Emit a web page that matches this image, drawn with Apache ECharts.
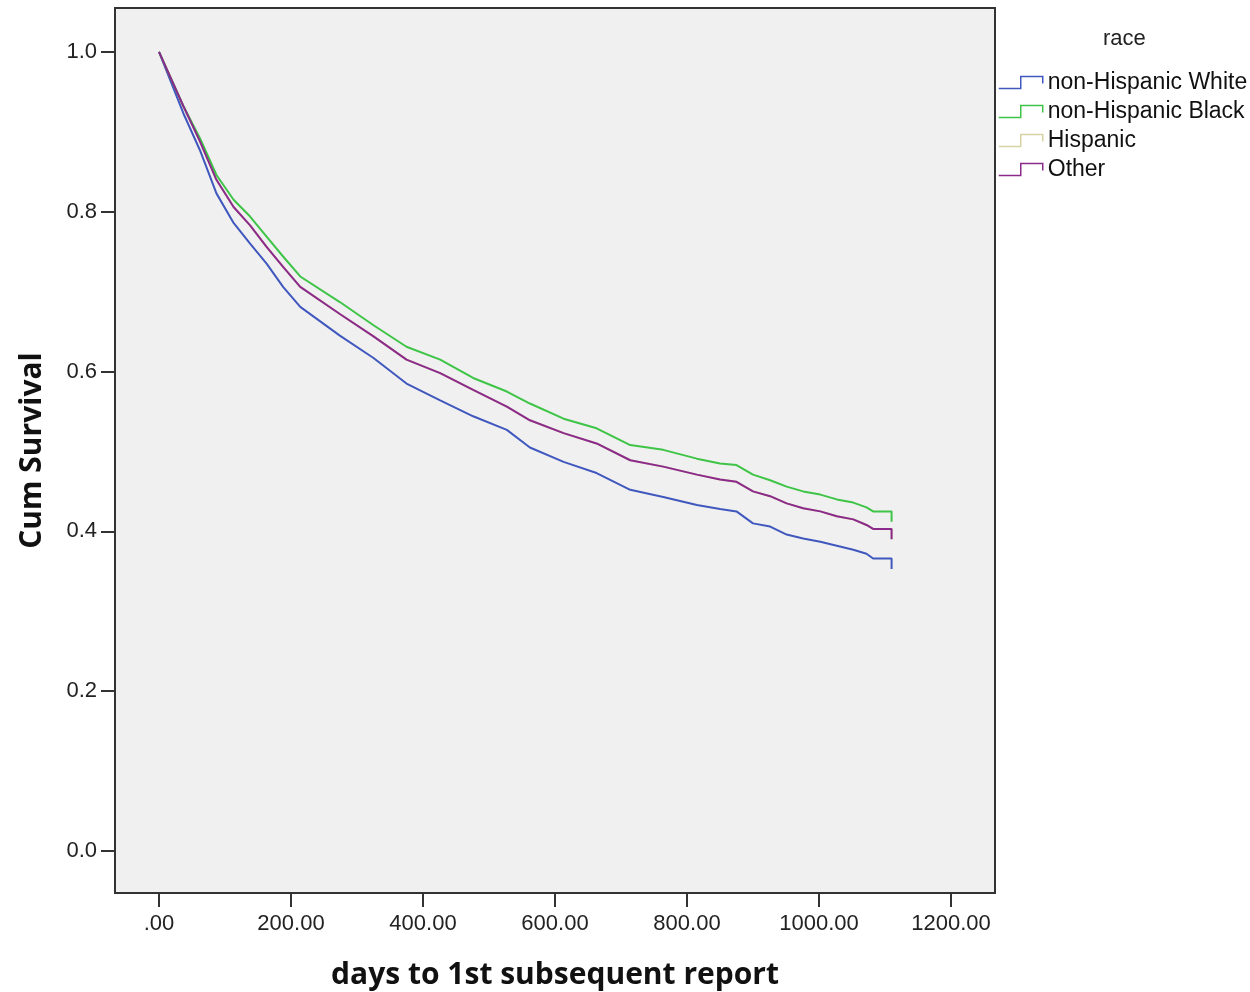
<!DOCTYPE html>
<html>
<head>
<meta charset="utf-8">
<script src="https://cdn.jsdelivr.net/npm/echarts@6/dist/echarts.min.js"></script>
<style>
html,body{margin:0;padding:0;background:#fff;}
#chart{width:1250px;height:992px;}
</style>
</head>
<body>
<div id="chart"></div>
<script>
// survival curves (day, cumulative survival)
var days = [0, 37, 62, 87, 113, 138, 163, 188, 214, 274, 325, 375, 426, 476, 527, 562, 613, 663, 714, 764, 815, 850, 875, 900, 926, 951, 976, 1002, 1027, 1052, 1072, 1082, 1110, 1110];
var whiteSurv = [1.0, 0.923, 0.877, 0.823, 0.786, 0.760, 0.735, 0.706, 0.681, 0.645, 0.617, 0.585, 0.564, 0.544, 0.527, 0.505, 0.487, 0.473, 0.452, 0.443, 0.433, 0.428, 0.425, 0.410, 0.406, 0.396, 0.391, 0.387, 0.382, 0.377, 0.372, 0.366, 0.366, 0.353];
var blackSurv = [1.0, 0.932, 0.892, 0.846, 0.815, 0.794, 0.769, 0.744, 0.719, 0.687, 0.658, 0.631, 0.615, 0.592, 0.575, 0.560, 0.541, 0.529, 0.508, 0.502, 0.491, 0.485, 0.483, 0.471, 0.464, 0.456, 0.450, 0.446, 0.440, 0.436, 0.430, 0.425, 0.425, 0.412];
var hispanicSurv = [1.0, 0.932, 0.888, 0.840, 0.806, 0.783, 0.756, 0.731, 0.706, 0.672, 0.644, 0.615, 0.598, 0.577, 0.556, 0.539, 0.523, 0.510, 0.489, 0.481, 0.471, 0.465, 0.462, 0.450, 0.444, 0.435, 0.429, 0.425, 0.419, 0.415, 0.408, 0.403, 0.403, 0.390];
var otherSurv = [1.0, 0.932, 0.888, 0.840, 0.806, 0.783, 0.756, 0.731, 0.706, 0.672, 0.644, 0.615, 0.598, 0.577, 0.556, 0.539, 0.523, 0.510, 0.489, 0.481, 0.471, 0.465, 0.462, 0.450, 0.444, 0.435, 0.429, 0.425, 0.419, 0.415, 0.408, 0.403, 0.403, 0.390];

var groupNames = ['non-Hispanic White', 'non-Hispanic Black', 'Hispanic', 'Other'];
var xTicks = [0, 200, 400, 600, 800, 1000, 1200];
var yTicks = [0, 0.2, 0.4, 0.6, 0.8, 1.0];

var colors = ['#4058be', '#3ec446', '#d8d3a2', '#8c2a8c'];
var survs = [whiteSurv, blackSurv, hispanicSurv, otherSurv];
var stepIcon = 'path://M0,12 L22,12 L22,0 L44,0 L44,7';

function pairs(vals){
	return days.map(function(d, i){ return [d, vals[i]]; });
}

var myChart = echarts.init(document.getElementById('chart'));
var option = {
	backgroundColor: '#fff',
	animation: false,
	title: {
		text: 'race',
		left: 1103,
		top: 28,
		padding: 0,
		textStyle: {fontFamily: 'Liberation Sans', fontSize: 22, fontWeight: 'normal', color: '#222'}
	},
	legend: {
		orient: 'vertical',
		left: 998,
		top: 71,
		padding: 0,
		itemWidth: 44,
		itemHeight: 12,
		itemGap: 6,
		icon: stepIcon,
		textStyle: {fontFamily: 'Liberation Sans', fontSize: 23, color: '#111'},
		data: groupNames.map(function(n, i){
			return {name: n, itemStyle: {color: 'transparent', borderColor: colors[i], borderWidth: 1.5}};
		})
	},
	grid: {
		left: 115,
		right: 255,
		top: 8,
		bottom: 99,
		outerBoundsMode: 'none',
		show: true,
		backgroundColor: '#f0f0f0',
		borderColor: '#333',
		borderWidth: 2
	},
	xAxis: {
		type: 'value',
		min: -66.7,
		max: 1266.7,
		name: 'days to 1st subsequent report',
		nameLocation: 'middle',
		nameGap: 67,
		nameTextStyle: {fontFamily: 'Open Sans', fontSize: 30, fontWeight: 'bold', color: '#111'},
		axisLine: {show: true, onZero: false, lineStyle: {color: '#333', width: 2}},
		axisTick: {show: true, customValues: xTicks, length: 14, lineStyle: {color: '#333', width: 2}},
		axisLabel: {
			customValues: xTicks,
			margin: 20,
			fontFamily: 'Liberation Sans',
			fontSize: 22,
			color: '#222',
			formatter: function(v){ return v === 0 ? '.00' : v.toFixed(2); }
		},
		splitLine: {show: false}
	},
	yAxis: {
		type: 'value',
		min: -0.0526,
		max: 1.055,
		name: 'Cum Survival',
		nameLocation: 'middle',
		nameGap: 68,
		nameTextStyle: {fontFamily: 'Open Sans', fontSize: 30, fontWeight: 'bold', color: '#111'},
		axisLine: {show: true, onZero: false, lineStyle: {color: '#333', width: 2}},
		axisTick: {show: true, customValues: yTicks, length: 14, lineStyle: {color: '#333', width: 2}},
		axisLabel: {
			customValues: yTicks,
			margin: 18,
			fontFamily: 'Liberation Sans',
			fontSize: 22,
			color: '#222',
			formatter: function(v){ return v.toFixed(1); }
		},
		splitLine: {show: false}
	},
	series: groupNames.map(function(n, i){
		return {
			name: n,
			type: 'line',
			symbol: 'none',
			z: i === 2 ? 1 : 2 + i,
			lineStyle: {color: colors[i], width: 2},
			itemStyle: {color: colors[i]},
			data: pairs(survs[i])
		};
	})
};
myChart.setOption(option);
</script>
</body>
</html>
